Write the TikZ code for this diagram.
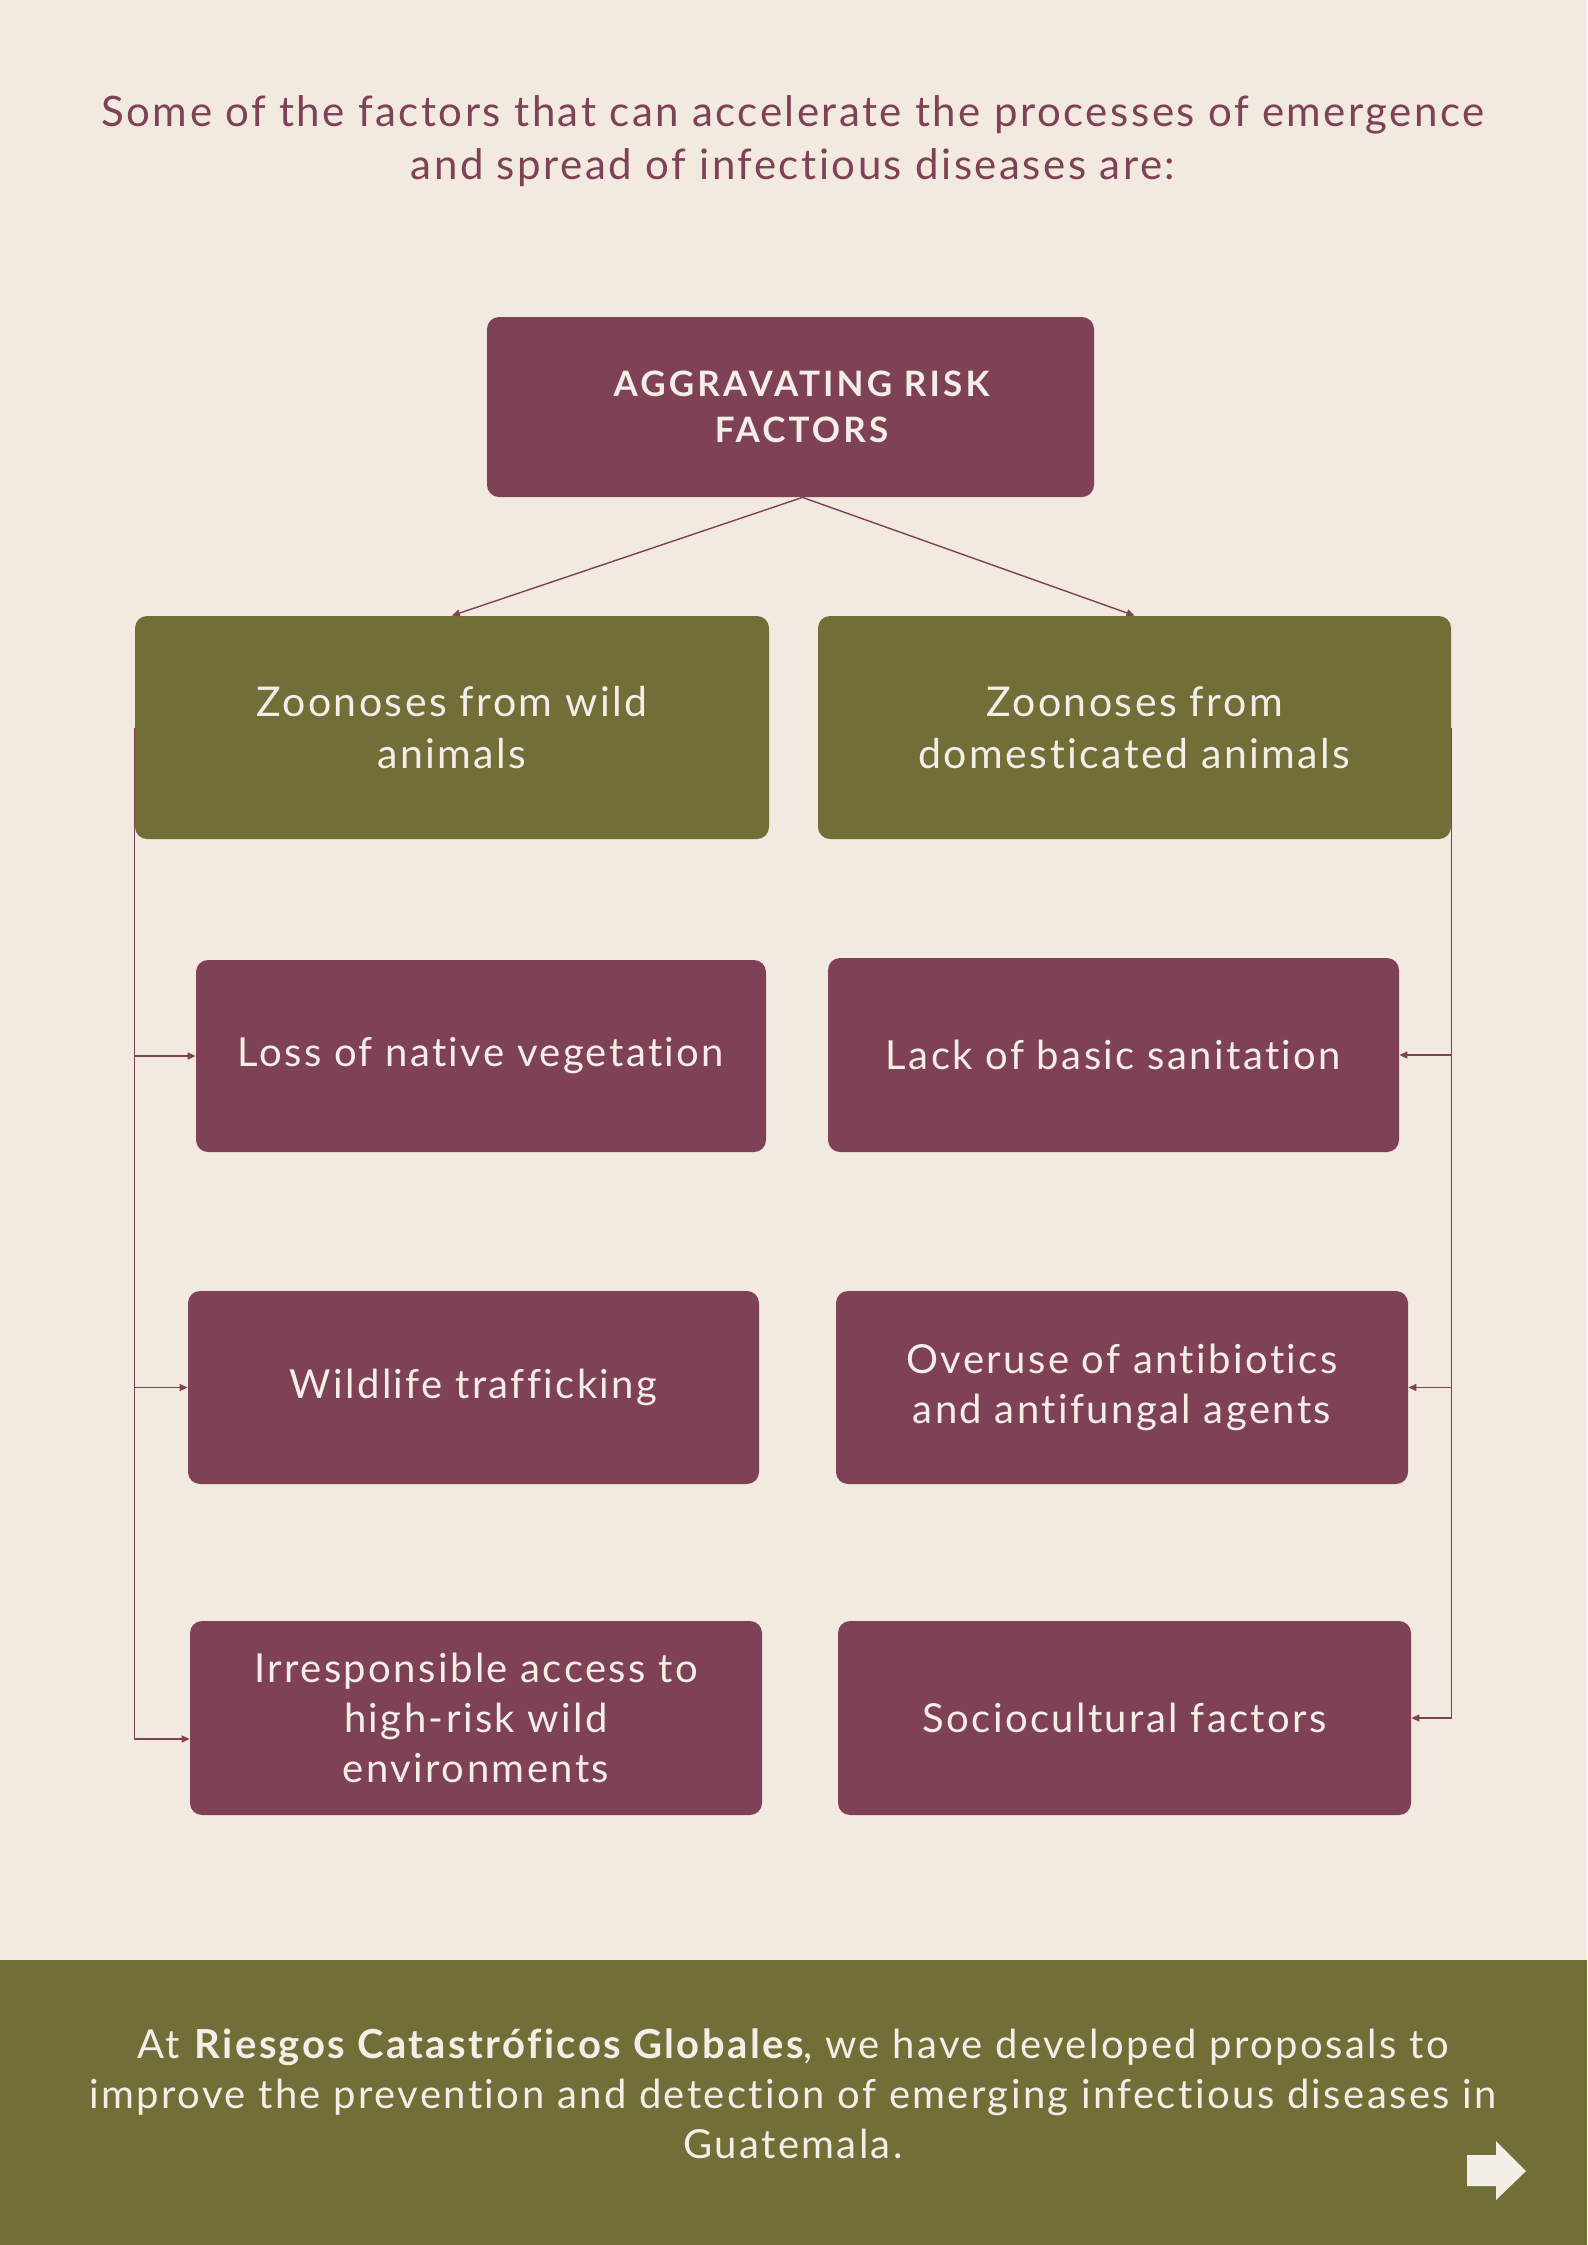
\documentclass[tikz,border=0pt]{standalone}
\usepackage{fontspec}
\setmainfont{Lato}[LetterSpace=6,Ligatures={NoCommon}]
\newfontfamily\topfont{Lato}[LetterSpace=9,Ligatures={NoCommon}]
\usetikzlibrary{arrows.meta,calc}
\definecolor{bg}{HTML}{F2E9E1}
\definecolor{maroon}{HTML}{7F4155}
\definecolor{olive}{HTML}{716F37}
\definecolor{light}{HTML}{F4EEE8}
\begin{document}
\begin{tikzpicture}[x=0.5pt,y=-0.5pt,
  mbox/.style={fill=maroon, rounded corners=6pt, text=light, align=center, inner sep=2pt, font=\fontsize{20}{25}\selectfont},
  gbox/.style={fill=olive, rounded corners=6pt, text=light, align=center, inner sep=2pt, font=\fontsize{20.5}{26}\selectfont},
  conn/.style={draw=maroon, line width=0.7pt, -{Triangle[length=4pt,width=3.5pt]}},
]
\fill[bg] (0,0) rectangle (1587,2245);
\useasboundingbox (0,0) rectangle (1587,2245);

\node[text=maroon, align=center, font=\fontsize{21}{26.5}\selectfont] (title) at (793,141)
  {Some of the factors that can accelerate the processes of emergence\\and spread of infectious diseases are:};

\node[mbox, minimum width=303.5pt, minimum height=90pt, font=\topfont\bfseries\fontsize{17.5}{23}\selectfont] (top) at (790.5,407) {\hspace*{11pt}AGGRAVATING RISK\\\hspace*{11pt}FACTORS};

\node[gbox, minimum width=317pt, minimum height=111.5pt] (gl) at (452,727.5) {Zoonoses from wild\\animals};
\node[gbox, minimum width=316.5pt, minimum height=111.5pt] (gr) at (1134.5,727.5) {Zoonoses from\\domesticated animals};

\node[mbox, minimum width=285pt, minimum height=96pt] (l1) at (481,1056) {\raisebox{4pt}{Loss of native vegetation}};
\node[mbox, minimum width=285.5pt, minimum height=97pt] (r1) at (1113.5,1055) {Lack of basic sanitation};
\node[mbox, minimum width=285.5pt, minimum height=96.5pt] (l2) at (473.5,1387.5) {Wildlife trafficking};
\node[mbox, minimum width=286pt, minimum height=96.5pt] (r2) at (1122,1387.5) {Overuse of antibiotics\\and antifungal agents};
\node[mbox, minimum width=286pt, minimum height=97pt] (l3) at (476,1718) {Irresponsible access to\\high-risk wild\\environments};
\node[mbox, minimum width=286.5pt, minimum height=97pt] (r3) at (1124.5,1718) {Sociocultural factors};

\draw[conn] ([xshift=6pt]top.south) -- (gl.north);
\draw[conn] ([xshift=6pt]top.south) -- (gr.north);

\draw[conn] (gl.west) |- (l1.west);
\draw[conn] (gl.west) |- (l2.west);
\draw[conn] (gl.west) |- ([yshift=-10.5pt]l3.west);
\draw[conn] (gr.east) |- (r1.east);
\draw[conn] (gr.east) |- (r2.east);
\draw[conn] (gr.east) |- (r3.east);

\fill[olive] (0,1960) rectangle (1587,2245);
\node[text=light, align=center, font=\fontsize{20}{25}\selectfont] (banner) at (793,2094)
  {At \textbf{Riesgos Catastróficos Globales}, we have developed proposals to\\improve the prevention and detection of emerging infectious diseases in\\Guatemala.};
\fill[light] (1467,2155) -- (1496,2155) -- (1496,2141) -- (1526,2171) -- (1496,2200) -- (1496,2186) -- (1467,2186) -- cycle;
\end{tikzpicture}
\end{document}
